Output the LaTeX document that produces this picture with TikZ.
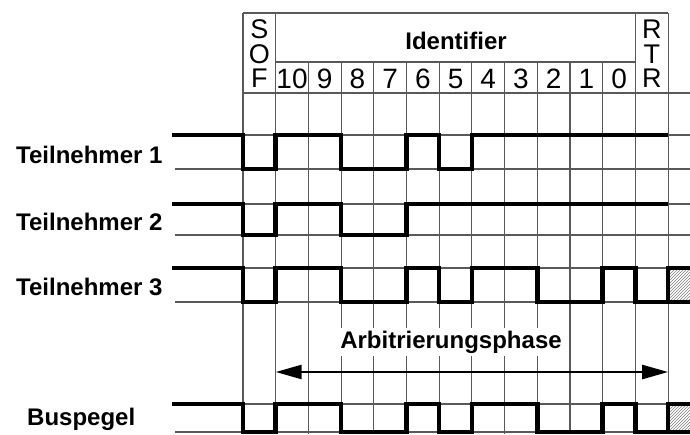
\documentclass[tikz,border=0pt]{standalone}
\usepackage{fontspec}
\setmainfont{Liberation Sans}
\usetikzlibrary{arrows.meta,patterns}

\def\xo{243}
\def\cw{32.7}

\tikzset{
    canGrid/.style={draw=black!65, line width=1.1pt},
    canSignal/.style={draw=black, line width=4.5pt, line join=miter},
    canHatch/.style={pattern=north east lines, pattern color=black!50},
    canLabel/.style={font=\fontsize{24}{28}\selectfont\bfseries, inner sep=0pt},
    canBit/.style={font=\fontsize{28}{30}\selectfont, inner sep=0pt, anchor=base},
    canStack/.style={font=\fontsize{27}{24.5}\selectfont, inner sep=0pt, align=center, anchor=south},
    % Arrow
    canPhase/.style={arrows={Triangle[length=26pt,width=14pt]-Triangle[length=26pt,width=14pt]}, line width=2.5pt}
}

% one waveform: #1 high level, #2 low level, #3 bits SOF..RTR
\newcommand{\canWave}[3]{%
    \draw[canSignal] (172,#1) -- (\xo,#1)
        foreach \b [count=\i from 0] in {#3} {
            -- ({\xo+\i*\cw},{#2-\b*(#2-#1)}) -- ({\xo+(\i+1)*\cw},{#2-\b*(#2-#1)})
        };
}

\begin{document}
\begin{tikzpicture}[x=1pt, y=-1pt]
    \useasboundingbox (0,0) rectangle (690,434);
    \clip (0,0) rectangle (690,434);

    % header frame
    \draw[canGrid] (\xo,13) -- ({\xo+13*\cw},13);
    \draw[canGrid] ({\xo+\cw},62) -- ({\xo+12*\cw},62);
    \draw[canGrid] (\xo,93) -- (690,93);
    \foreach \i in {0,1,12,13}
        \draw[canGrid] ({\xo+\i*\cw},13) -- ({\xo+\i*\cw},434);
    \foreach \i in {2,...,11}
        \draw[canGrid] ({\xo+\i*\cw},62) -- ({\xo+\i*\cw},434);
    \foreach \y in {135,169,204,235,268,302,404,432}
        \draw[canGrid] (175,\y) -- (690,\y);

    % header texts
    \node[canStack] (sof) at ({\xo+0.5*\cw},88) {S\\O\\F};
    \node[canStack] (rtr) at ({\xo+12.5*\cw},88) {R\\T\\R};
    \node[canLabel, anchor=base] (ident) at (456,49) {Identifier};
    \foreach \n [count=\i] in {10,9,...,0}
        \node[canBit] (bit\n) at ({\xo+(\i+0.5)*\cw},88) {\n};

    % row labels
    \node[canLabel, anchor=base west] (tn1) at (16,163) {Teilnehmer 1};
    \node[canLabel, anchor=base west] (tn2) at (16,230) {Teilnehmer 2};
    \node[canLabel, anchor=base west] (tn3) at (16,295) {Teilnehmer 3};
    \node[canLabel, anchor=base west] (bus) at (27,425) {Buspegel};

    % waveforms
    \canWave{135}{169}{0,1,1,0,0,1,0,1,1,1,1,1,1}
    \canWave{204}{235}{0,1,1,0,0,1,1,1,1,1,1,1,1}
    \canWave{268}{302}{0,1,1,0,0,1,0,1,1,0,0,1,0}
    \canWave{404}{432}{0,1,1,0,0,1,0,1,1,0,0,1,0}
    \draw[canSignal, canHatch] (700,268) -- ({\xo+13*\cw},268) -- ({\xo+13*\cw},302) -- (700,302);
    \draw[canSignal, canHatch] (700,404) -- ({\xo+13*\cw},404) -- ({\xo+13*\cw},432) -- (700,432);

    % arbitration phase
    \node[canLabel, anchor=base, fill=white, inner sep=3pt] (arb) at (451,348) {Arbitrierungsphase};
    \coordinate (arbStart) at ({\xo+\cw},372);
    \coordinate (arbEnd) at ({\xo+13*\cw},372);
    \draw[canPhase] (arbStart) -- (arbEnd);
\end{tikzpicture}
\end{document}
